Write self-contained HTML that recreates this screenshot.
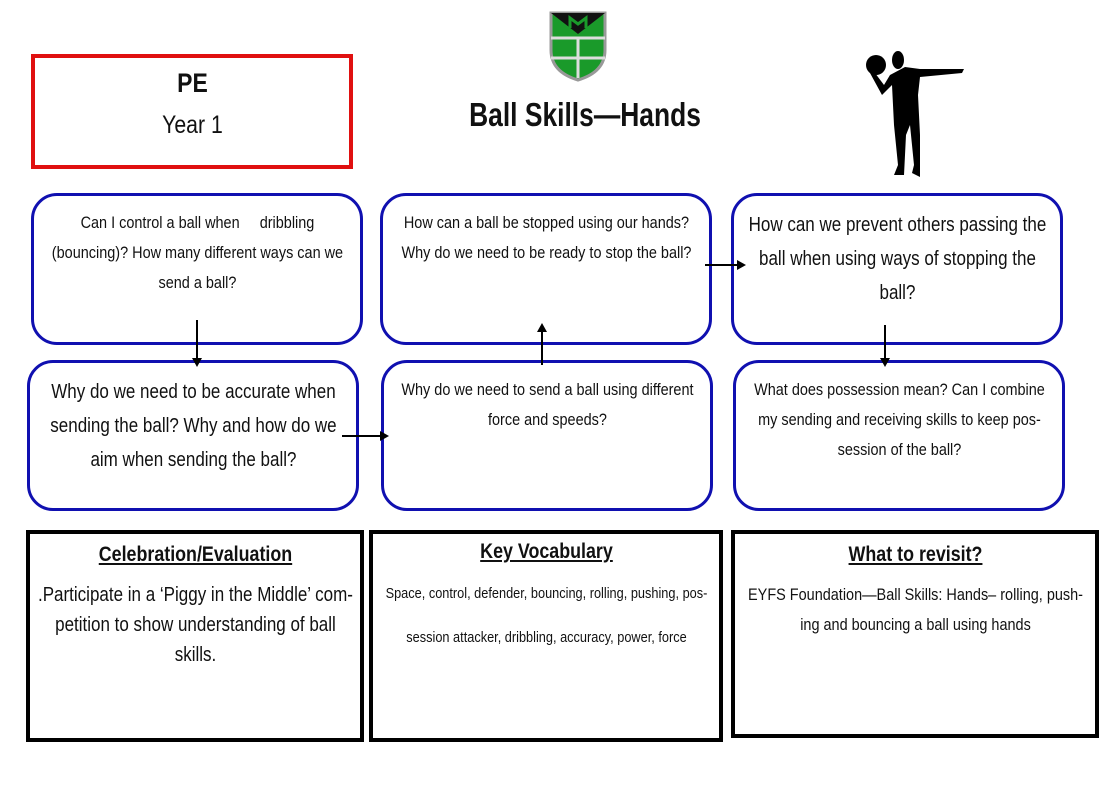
<!DOCTYPE html>
<html><head><meta charset="utf-8"><style>
body{margin:0;width:1112px;height:787px;background:#fff;position:relative;overflow:hidden;font-family:"Liberation Sans",sans-serif;color:#111}
.t{width:118%;transform:scaleX(.85);transform-origin:0 0;white-space:nowrap}
.b{position:absolute;box-sizing:border-box;border:3px solid #1010b0;border-radius:26px;text-align:center;font-size:17px;line-height:30px;padding:12px 10px 0}
.k{position:absolute;box-sizing:border-box;border:4px solid #000;text-align:center;padding:6px 8px 0}
.k h3{margin:0 0 10px;font-size:21px;text-decoration:underline;font-weight:bold}
.a{position:absolute;background:#000}
</style></head><body>
<div style="position:absolute;left:31px;top:54px;width:322px;height:115px;box-sizing:border-box;border:4px solid #e01010;text-align:center">
<div class="t"><div style="font-weight:bold;font-size:27px;margin-top:10px">PE</div>
<div style="font-size:25px;margin-top:12px">Year 1</div></div></div>
<div style="position:absolute;left:450px;top:96px;width:270px;text-align:center;font-weight:bold;font-size:33px;white-space:nowrap"><div style="width:125%;transform:scaleX(.8);transform-origin:0 0">Ball Skills—Hands</div></div>
<svg style="position:absolute;left:548px;top:10px" width="60" height="72" viewBox="0 0 60 72">
<path d="M3 3H57V40Q57 62 30 70Q3 62 3 40Z" fill="#1a9a2a" stroke="#999" stroke-width="3"/>
<path d="M3 3H57L30 24Z" fill="#111"/><path d="M22 18V8L30 14L38 8V18" stroke="#1a9a2a" stroke-width="3" fill="none"/>
<path d="M3 28H57M3 48H57M30 28V68" stroke="#ddd" stroke-width="3"/></svg>
<svg style="position:absolute;left:860px;top:45px" width="110" height="135" viewBox="0 0 110 135">
<circle cx="16" cy="20" r="10"/><ellipse cx="38" cy="15" rx="6" ry="9"/>
<path d="M10 28L22 50L32 40L34 80L38 120L34 130L44 130L46 90L50 80L54 120L52 128L60 132L60 90L58 50L60 32L102 28L104 24L60 24L45 22L30 30L24 40L15 28Z"/></svg>
<div class="b" style="left:31px;top:193px;width:332px;height:152px"><div class="t">Can I control a ball when &nbsp;&nbsp;&nbsp; dribbling<br>(bouncing)? How many different ways can we<br>send a ball?</div></div>
<div class="b" style="left:380px;top:193px;width:332px;height:152px"><div class="t">How can a ball be stopped using our hands?<br>Why do we need to be ready to stop the ball?</div></div>
<div class="b" style="left:731px;top:193px;width:332px;height:152px;font-size:20px;line-height:34px"><div class="t">How can we prevent others passing the<br>ball when using ways of stopping the<br>ball?</div></div>
<div class="b" style="left:27px;top:360px;width:332px;height:151px;font-size:20px;line-height:34px"><div class="t">Why do we need to be accurate when<br>sending the ball? Why and how do we<br>aim when sending the ball?</div></div>
<div class="b" style="left:381px;top:360px;width:332px;height:151px"><div class="t">Why do we need to send a ball using different<br>force and speeds?</div></div>
<div class="b" style="left:733px;top:360px;width:332px;height:151px"><div class="t">What does possession mean? Can I combine<br>my sending and receiving skills to keep pos-<br>session of the ball?</div></div>
<div class="a" style="left:196px;top:320px;width:2px;height:40px"></div>
<div style="position:absolute;left:192px;top:358px;border:5px solid transparent;border-top:9px solid #000"></div>
<div class="a" style="left:541px;top:332px;width:2px;height:33px"></div>
<div style="position:absolute;left:537px;top:318px;border:5px solid transparent;border-bottom:9px solid #000"></div>
<div class="a" style="left:884px;top:325px;width:2px;height:35px"></div>
<div style="position:absolute;left:880px;top:358px;border:5px solid transparent;border-top:9px solid #000"></div>
<div class="a" style="left:342px;top:435px;width:40px;height:2px"></div>
<div style="position:absolute;left:380px;top:431px;border:5px solid transparent;border-left:9px solid #000"></div>
<div class="a" style="left:705px;top:264px;width:33px;height:2px"></div>
<div style="position:absolute;left:737px;top:260px;border:5px solid transparent;border-right:0;border-left:9px solid #000"></div>
<div class="k" style="left:26px;top:530px;width:338px;height:212px;font-size:20px;line-height:30px"><div class="t"><h3>Celebration/Evaluation</h3>.Participate in a ‘Piggy in the Middle’ com-<br>petition to show understanding of ball<br>skills.</div></div>
<div class="k" style="left:369px;top:530px;width:354px;height:212px;font-size:15px;line-height:44px"><div class="t"><h3 style="line-height:24px;margin-bottom:8px">Key Vocabulary</h3>Space, control, defender, bouncing, rolling, pushing, pos-<br>session attacker, dribbling, accuracy, power, force</div></div>
<div class="k" style="left:731px;top:530px;width:368px;height:208px;font-size:17px;line-height:30px"><div class="t"><h3>What to revisit?</h3>EYFS Foundation—Ball Skills: Hands– rolling, push-<br>ing and bouncing a ball using hands</div></div>
</body></html>
